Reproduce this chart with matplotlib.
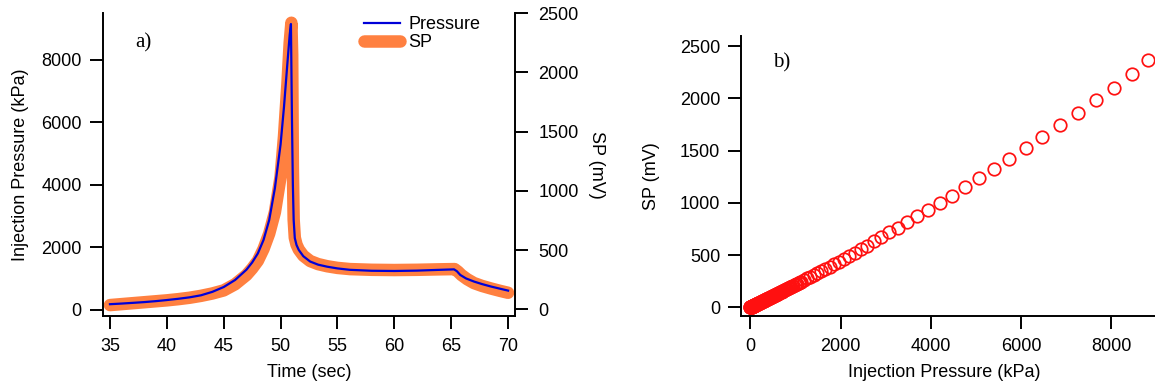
import matplotlib
matplotlib.use("Agg")
import matplotlib.pyplot as plt

plt.rcParams["font.family"] = ["Liberation Sans", "DejaVu Sans"]

# ---- panel a: time series ----------------------------------------------------
time_p = [35, 36, 37, 38, 39, 40, 41, 42, 43, 44, 45, 46, 47, 47.5, 48, 48.5,
          49, 49.5, 50, 50.3, 50.6, 50.8, 50.91, 51.0, 51.08, 51.15, 51.25,
          51.4, 51.6, 52.0, 52.6, 53.3, 54.1, 55, 56.1, 58, 60, 62, 64, 65.25,
          65.5, 65.8, 66.3, 67, 67.7, 68.5, 69.3, 70]
pressure = [185, 205, 228, 252, 282, 318, 358, 405, 470, 580, 735, 960, 1290,
            1520, 1810, 2240, 2880, 3900, 5300, 6500, 7900, 8800, 9150, 6100,
            4000, 2880, 2300, 2080, 1920, 1720, 1550, 1450, 1385, 1330, 1285,
            1255, 1248, 1260, 1285, 1300, 1240, 1120, 1010, 910, 830, 750, 680,
            620]

time_sp = [35, 36, 37, 38, 39, 40, 41, 42, 43, 44, 45, 46, 47, 47.5, 48, 48.5,
           49, 49.5, 50, 50.3, 50.6, 50.8, 50.95, 51.02, 51.08, 51.15, 51.25,
           51.4, 51.6, 52.0, 52.6, 53.3, 54.1, 55, 56.1, 58, 60, 62, 64, 65.3,
           65.6, 65.9, 66.4, 67, 67.7, 68.5, 69.3, 70]
sp = [36, 44, 52, 60, 68, 76, 86, 98, 114, 134, 160, 212, 290, 345, 410, 510,
      640, 820, 1120, 1460, 1900, 2250, 2420, 2150, 1200, 758, 605, 547, 505,
      453, 408, 382, 364, 350, 340, 334, 332, 334, 338, 340, 318, 290, 255,
      222, 198, 176, 156, 140]

# ---- panel b: SP vs injection pressure --------------------------------------
p_scatter = [0, 1, 2, 4, 7, 10, 13, 16, 20, 23, 27, 31, 35, 39, 43, 47, 52, 56,
             61, 66, 71, 76, 81, 86, 92, 97, 103, 109, 115, 121, 127, 133, 139,
             145, 152, 158, 165, 172, 179, 186, 193, 200, 207, 214, 222, 229,
             237, 245, 253, 261, 269, 277, 286, 294, 303, 312, 321, 330, 339,
             348, 358, 367, 377, 387, 397, 407, 417, 427, 438, 449, 460, 471,
             483, 495, 507, 520, 533, 547, 561, 576, 591, 607, 623, 640, 657,
             675, 693, 712, 731, 751, 771, 792, 813, 835, 858, 882, 906, 931,
             957, 984, 1011, 1039, 1068, 1098, 1128, 1192, 1260, 1332, 1408,
             1488, 1573, 1663, 1758, 1858, 1964, 2076, 2197, 2318, 2455, 2590,
             2749, 2907, 3082, 3264, 3475, 3694, 3945, 4195, 4466, 4754, 5064,
             5397, 5745, 6102, 6472, 6865, 7260, 7667, 8062, 8463, 8825]
sp_scatter = [0, 0, 0, 1, 1, 2, 3, 3, 4, 5, 6, 7, 7, 8, 9, 10, 11, 12, 13, 14,
              15, 16, 17, 18, 20, 21, 22, 23, 25, 26, 27, 28, 30, 31, 33, 34,
              35, 37, 38, 40, 41, 43, 44, 46, 48, 49, 51, 52, 54, 56, 58, 59,
              62, 63, 65, 67, 69, 71, 73, 75, 77, 79, 81, 83, 86, 88, 90, 92,
              94, 96, 99, 101, 104, 107, 110, 112, 115, 118, 121, 124, 128,
              131, 135, 138, 142, 146, 150, 154, 159, 163, 167, 172, 177, 182,
              187, 192, 197, 203, 208, 214, 220, 226, 233, 239, 246, 261, 276,
              292, 309, 327, 347, 367, 389, 411, 436, 462, 491, 522, 555, 589,
              631, 670, 717, 762, 816, 874, 931, 1001, 1068, 1148, 1240, 1320,
              1419, 1521, 1632, 1741, 1862, 1983, 2098, 2232, 2366]

BLUE = "#0000d8"
ORANGE = "#ff8040"
RED = "#ff1010"
FS = 13

fig = plt.figure(figsize=(11.55, 3.87), dpi=100)


def style_axis(ax, sides):
    for s in ["left", "right", "top", "bottom"]:
        ax.spines[s].set_visible(s in sides)
        ax.spines[s].set_linewidth(1.4)
    ax.tick_params(direction="out", length=9.5, width=1.4, labelsize=FS)
    ax.tick_params(axis="x", pad=6.5)
    ax.tick_params(axis="y", pad=5.5)


# panel a
ax = fig.add_axes([0.0889, 0.1835, 0.3574, 0.7822])
ax2 = ax.twinx()
style_axis(ax, ["left", "bottom"])
style_axis(ax2, ["right"])
ax2.tick_params(axis="y", pad=7)

ax2.plot(time_sp, sp, color=ORANGE, lw=9, solid_capstyle="round",
         solid_joinstyle="round", label="SP")
ax.plot(time_p, pressure, color=BLUE, lw=1.6, label="Pressure")
ax.set_zorder(ax2.get_zorder() + 1)
ax.patch.set_visible(False)

ax.set_xlim(34.36, 70.65)
ax.set_ylim(-192, 9494)
ax2.set_ylim(-56, 2500)
ax.set_xticks([35, 40, 45, 50, 55, 60, 65, 70])
ax.set_yticks([0, 2000, 4000, 6000, 8000])
ax2.set_yticks([0, 500, 1000, 1500, 2000, 2500])

ax.set_xlabel("Time (sec)", fontsize=FS)
ax.xaxis.set_label_coords(0.5, -0.188)
ax.xaxis.label.set_va("center")
ax.set_ylabel("Injection Pressure (kPa)", fontsize=FS)
ax.yaxis.set_label_coords(-0.200, 0.5)
ax.yaxis.label.set_va("center")
ax2.set_ylabel("SP (mV)", fontsize=FS, rotation=270)
ax2.yaxis.set_label_coords(1.197, 0.5)
ax2.yaxis.label.set_va("center")

ax.text(0.078, 0.903, "a)", transform=ax.transAxes, fontsize=15,
        family="Liberation Serif", va="center", ha="left")

h1, l1 = ax.get_legend_handles_labels()
h2, l2 = ax2.get_legend_handles_labels()
ax.legend(h1 + h2, l1 + l2, loc="upper left", bbox_to_anchor=(0.633, 0.99),
          frameon=False, fontsize=FS, handlelength=2.0, handletextpad=0.45,
          labelspacing=0.05, borderpad=0, borderaxespad=0)

# panel b
bx = fig.add_axes([0.6416, 0.1835, 0.3584, 0.7235])
style_axis(bx, ["left", "bottom"])
bx.plot(p_scatter, sp_scatter, linestyle="none", marker="o", ms=9,
        mfc="none", mec=RED, mew=1.25, clip_on=False)
bx.set_xlim(-206, 8973)
bx.set_ylim(-83, 2596)
bx.set_xticks([0, 2000, 4000, 6000, 8000])
bx.set_yticks([0, 500, 1000, 1500, 2000, 2500])
bx.set_xlabel("Injection Pressure (kPa)", fontsize=FS)
bx.xaxis.set_label_coords(0.4907, -0.2036)
bx.xaxis.label.set_va("center")
bx.set_ylabel("SP (mV)", fontsize=FS)
bx.yaxis.set_label_coords(-0.2174, 0.5)
bx.yaxis.label.set_va("center")
bx.text(0.077, 0.904, "b)", transform=bx.transAxes, fontsize=15,
        family="Liberation Serif", va="center", ha="left")

fig.savefig("out.png", dpi=100)
